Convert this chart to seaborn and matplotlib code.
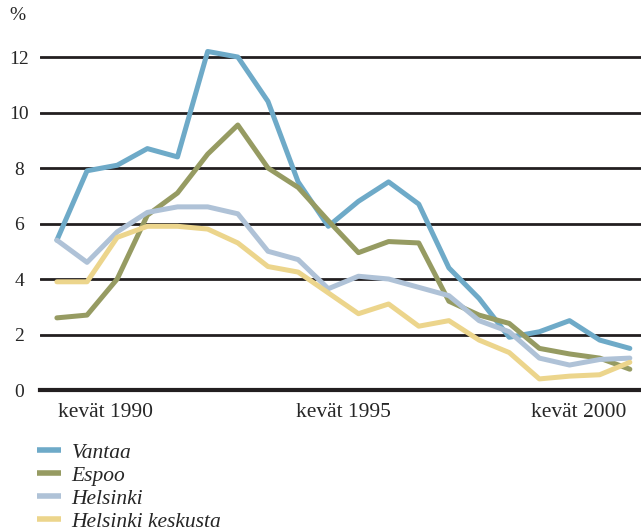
import pandas as pd
import matplotlib.pyplot as plt
import seaborn as sns

# half-year index along the x axis
period = list(range(20))

# values (%)
vantaa = [5.4, 7.9, 8.1, 8.7, 8.4, 12.2, 12.0, 10.4, 7.5, 5.9,
          6.8, 7.5, 6.7, 4.4, 3.3, 1.9, 2.1, 2.5, 1.8, 1.5]
espoo = [2.6, 2.7, 4.0, 6.3, 7.1, 8.5, 9.55, 8.0, 7.3, 6.1,
         4.95, 5.35, 5.3, 3.2, 2.7, 2.4, 1.5, 1.3, 1.15, 0.75]
helsinki = [5.4, 4.6, 5.7, 6.4, 6.6, 6.6, 6.35, 5.0, 4.7, 3.65,
            4.1, 4.0, 3.7, 3.4, 2.5, 2.1, 1.15, 0.9, 1.1, 1.15]
keskusta = [3.9, 3.9, 5.5, 5.9, 5.9, 5.8, 5.3, 4.45, 4.25, 3.5,
            2.75, 3.1, 2.3, 2.5, 1.8, 1.35, 0.4, 0.5, 0.55, 1.0]

series_names = ["Vantaa", "Espoo", "Helsinki", "Helsinki keskusta"]
series_colors = ["#6eaac8", "#969b62", "#afc2d7", "#ecd58c"]

y_ticks = [0, 2, 4, 6, 8, 10, 12]
x_tick_pos = [1.6, 9.5, 17.3]
x_tick_labels = ["kevät 1990", "kevät 1995", "kevät 2000"]

# long-form table for seaborn
df = pd.concat([
    pd.DataFrame({"period": period, "value": vals, "city": name})
    for name, vals in zip(series_names, [vantaa, espoo, helsinki, keskusta])
])

sns.set_style("white")
plt.rcParams["font.family"] = ["Liberation Serif", "DejaVu Serif"]

fig = plt.figure(figsize=(6.41, 5.31), dpi=100)
ax = fig.add_axes([0.0624, 0.2655, 0.9376, 0.6794])

sns.lineplot(data=df, x="period", y="value", hue="city",
             hue_order=series_names, palette=dict(zip(series_names, series_colors)),
             linewidth=3.6, ax=ax, legend=True)

ax.set_xlim(-0.56, 19.37)
ax.set_ylim(0, 13)
ax.set_axisbelow(True)

# horizontal grid and heavy baseline
ax.set_yticks(y_ticks)
ax.set_yticklabels([str(t) for t in y_ticks], ha="center")
ax.yaxis.grid(True, color="#231f20", linewidth=2.0)
ax.xaxis.grid(False)
ax.tick_params(axis="y", length=0, pad=15, labelsize=14)
ax.set_xticks(x_tick_pos)
ax.set_xticklabels(x_tick_labels)
ax.tick_params(axis="x", length=0, pad=9, labelsize=15.5)

for side in ["top", "right", "left"]:
    ax.spines[side].set_visible(False)
ax.spines["bottom"].set_color("#231f20")
ax.spines["bottom"].set_linewidth(3.0)

ax.set_xlabel("")
ax.set_ylabel("")

fig.text(17 / 641, 1 - 15 / 531, "%", ha="center", va="center", fontsize=14)

handles, labels = ax.get_legend_handles_labels()
ax.get_legend().remove()
leg = fig.legend(handles, labels, loc="upper left",
                 bbox_to_anchor=(0.0577, 0.1667), frameon=False,
                 borderpad=0, borderaxespad=0, handlelength=1.1,
                 handletextpad=0.5, labelspacing=0.14,
                 prop={"style": "italic", "size": 15.5})
for h in leg.legend_handles:
    h.set_linewidth(4.0)
    h.set_solid_capstyle("butt")

fig.savefig("out.png", dpi=100)
